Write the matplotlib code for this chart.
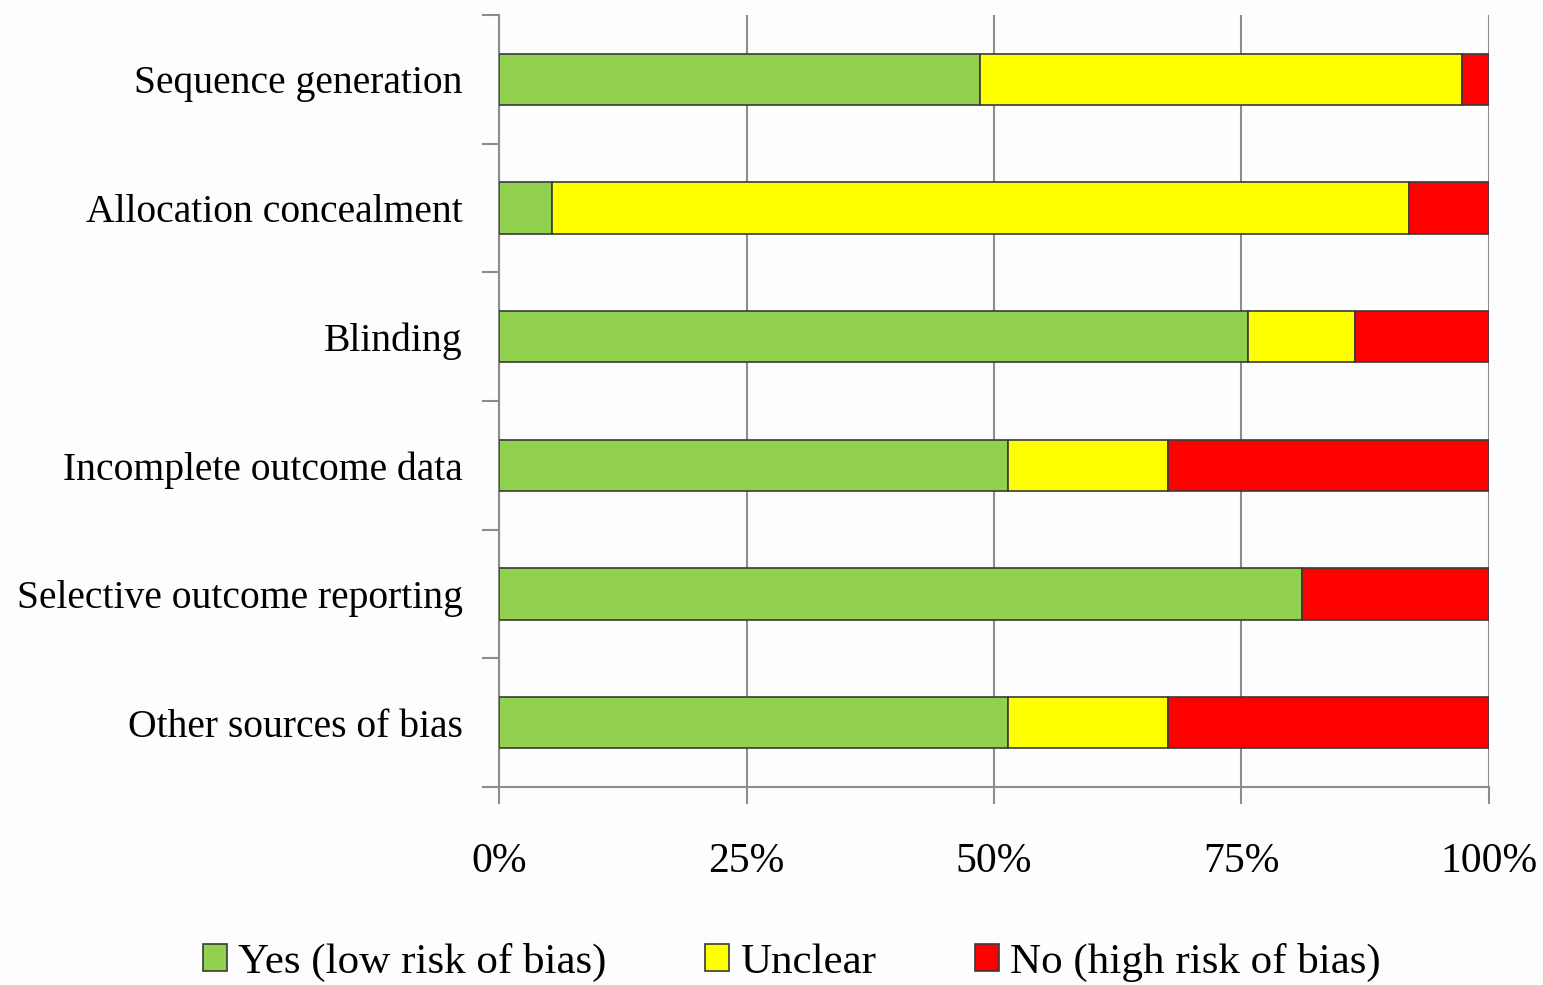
"""Risk of bias summary - stacked horizontal bars."""

import matplotlib

matplotlib.use("Agg")
import matplotlib.pyplot as plt
import numpy as np

plt.rcParams["font.family"] = ["Liberation Serif", "DejaVu Serif"]

domains = [
    "Sequence generation",
    "Allocation concealment",
    "Blinding",
    "Incomplete outcome data",
    "Selective outcome reporting",
    "Other sources of bias",
]
# percentages of studies per judgement
yes_low = [48.6, 5.4, 75.7, 51.4, 81.1, 51.4]
unclear = [48.7, 86.5, 10.8, 16.2, 0.0, 16.2]
no_high = [2.7, 8.1, 13.5, 32.4, 18.9, 32.4]

series = [
    ("Yes (low risk of bias)", yes_low, "#92D050"),
    ("Unclear", unclear, "#FFFF00"),
    ("No (high risk of bias)", no_high, "#FF0000"),
]


def main() -> None:
    fig = plt.figure(figsize=(15.43, 9.85), dpi=100, facecolor="#fdfdfd")
    ax = fig.add_axes([0.3234, 0.201, 0.6416, 0.7838])
    ax.set_facecolor("#fdfdfd")

    pos = np.arange(len(domains))[::-1]
    left = np.zeros(len(domains))
    for label, vals, color in series:
        vals = np.asarray(vals)
        ax.barh(pos, vals, left=left, height=0.4, color=color,
                edgecolor="#3a3a3a", linewidth=1.2, label=label, zorder=3)
        left += vals

    ax.set_xlim(0, 100)
    ax.set_ylim(-0.5, len(domains) - 0.5)
    ax.set_xticks([0, 25, 50, 75, 100])
    ax.set_xticklabels(["0%", "25%", "50%", "75%", "100%"], fontsize=30)
    ax.grid(axis="x", color="#8c8c8c", linewidth=1.5, zorder=0)

    ax.set_yticks(pos)
    ax.set_yticklabels(domains, fontsize=28.5)
    ax.set_yticks(np.arange(-0.5, len(domains)), minor=True)
    ax.tick_params(axis="y", which="major", length=0, pad=26)
    ax.tick_params(axis="y", which="minor", length=12, width=1.5, color="#8c8c8c")
    ax.tick_params(axis="x", length=12, width=1.5, color="#8c8c8c", pad=28)

    for side in ("top", "right"):
        ax.spines[side].set_visible(False)
    for side in ("left", "bottom"):
        ax.spines[side].set_color("#8c8c8c")
        ax.spines[side].set_linewidth(1.5)

    fig.legend(loc="center", ncol=3, frameon=False, fontsize=31,
               bbox_to_anchor=(0.513, 0.023), handlelength=0.56,
               handleheight=0.56, handletextpad=0.25, columnspacing=2.3)

    fig.savefig("out.png", dpi=100, facecolor=fig.get_facecolor())
    plt.close(fig)


if __name__ == "__main__":
    main()
